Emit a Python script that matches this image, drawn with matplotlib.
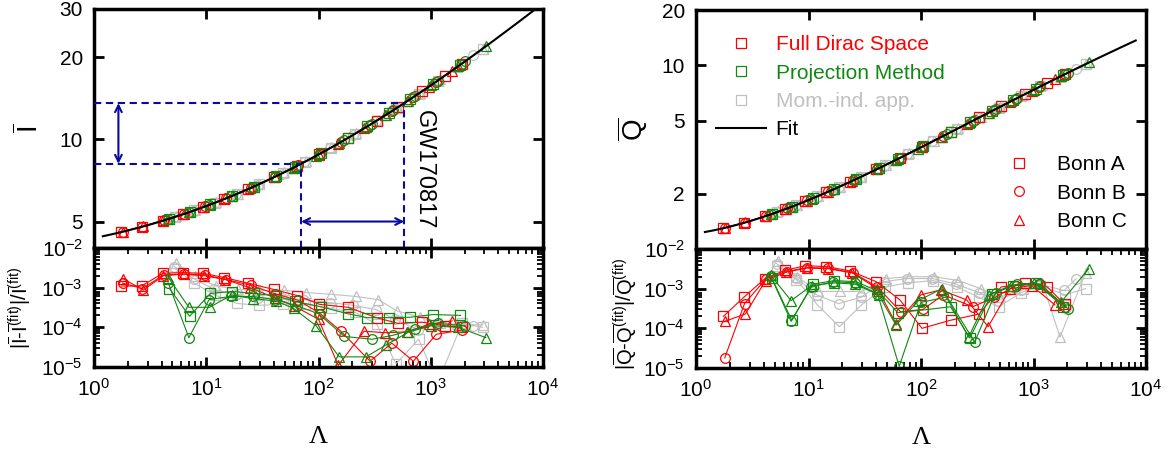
import numpy as np
import matplotlib
matplotlib.use('Agg')
import matplotlib.pyplot as plt
from matplotlib.lines import Line2D
from matplotlib.ticker import FixedLocator, NullLocator, LogLocator, NullFormatter

plt.rcParams['font.family'] = ['Liberation Sans', 'DejaVu Sans']
plt.rcParams['mathtext.fontset'] = 'custom'
plt.rcParams['mathtext.rm'] = 'Liberation Sans'
plt.rcParams['mathtext.it'] = 'Liberation Sans:italic'
plt.rcParams['mathtext.bf'] = 'Liberation Sans:bold'

# tidal deformability of each stellar sequence
lam_full_a = [1.75, 2.65, 4.1, 6.2, 9.4, 14.4, 23.5, 40, 65, 102, 183, 330, 515, 835, 1330, 1900]
lam_full_b = [1.8, 2.7, 4.2, 6.4, 9.7, 15, 25, 41, 66, 104, 158, 288, 450, 700, 1120, 1900]
lam_full_c = [1.8, 2.75, 4.15, 6.3, 9.6, 14.8, 24.5, 41, 60, 100, 150, 255, 395, 620, 960, 1550]
lam_proj_a = [4.7, 7.1, 10.9, 17, 26.4, 42, 62, 105, 183, 272, 425, 660, 1050, 1840]
lam_proj_b = [4.6, 7.0, 10.6, 16.5, 26, 41, 64, 100, 170, 300, 460, 720, 1150, 2030]
lam_proj_c = [4.6, 7.0, 10.7, 16.8, 26, 42, 60, 95, 153, 265, 400, 630, 1000, 1750, 3100]
lam_mom_a = [5.3, 7.8, 12, 18.8, 29.3, 48, 76, 128, 210, 330, 490, 780, 1150, 1900, 2900]
lam_mom_b = [5.2, 7.7, 11.8, 18.5, 29, 47, 75, 126, 205, 325, 480, 770, 1130, 1870, 2400]
lam_mom_c = [5.4, 7.9, 12.2, 19, 29.5, 49, 78, 130, 215, 340, 500, 800, 1200, 1720, 2900]

# relative deviation of I-bar from the fit
resI_full_a = [1.1e-3, 1.1e-3, 2.3e-3, 2.4e-3, 2.3e-3, 1.8e-3, 1.3e-3, 9.0e-4, 6.3e-4, 3.8e-4, 3.2e-4, 1.75e-4, 1.25e-4, 1.35e-4, 1.1e-4, 1.0e-4]
resI_full_b = [1.3e-3, 9.5e-4, 2.1e-3, 2.2e-3, 2.1e-3, 1.6e-3, 1.15e-3, 7.0e-4, 4.8e-4, 2.2e-4, 8.0e-5, 1.4e-5, 4.0e-5, 1.4e-5, 6.7e-5, 8.5e-5]
resI_full_c = [1.7e-3, 8.7e-4, 2.0e-3, 2.2e-3, 2.0e-3, 1.6e-3, 1.0e-3, 5.5e-4, 3.5e-4, 1.6e-4, 1.1e-5, 8.0e-5, 7.3e-5, 7.7e-5, 1.2e-4, 1.45e-4]
resI_proj_a = [9.5e-4, 1.9e-4, 7.2e-4, 8.0e-4, 7.2e-4, 6.2e-4, 4.5e-4, 3.3e-4, 2.2e-4, 1.75e-4, 1.75e-4, 1.8e-4, 2.1e-4, 2.0e-4]
resI_proj_b = [1.3e-3, 5.5e-5, 5.0e-4, 6.0e-4, 6.0e-4, 5.0e-4, 3.5e-4, 2.2e-4, 5.9e-5, 5.0e-5, 6.3e-5, 9.0e-5, 1.25e-4, 1.1e-4]
resI_proj_c = [1.8e-3, 3.2e-4, 3.2e-4, 6.5e-4, 5.3e-4, 4.6e-4, 3.0e-4, 1.1e-4, 1.8e-5, 1.8e-5, 3.6e-5, 7.5e-5, 1.1e-4, 1.0e-4, 5.5e-5]
resI_mom_a = [3.0e-3, 1.3e-3, 6.5e-4, 4.0e-4, 3.6e-4, 3.8e-4, 3.8e-4, 3.0e-4, 2.4e-4, 1.2e-4, 1.2e-5, 5.0e-5, 4.0e-6, 1.25e-4, 1.0e-4]
resI_mom_b = [3.4e-3, 1.7e-3, 9.0e-4, 6.5e-4, 5.5e-4, 5.5e-4, 5.0e-4, 4.2e-4, 3.6e-4, 2.8e-4, 1.6e-4, 8.6e-5, 1.2e-4, 1.1e-4, 1.1e-4]
resI_mom_c = [4.1e-3, 2.0e-3, 1.1e-3, 9.0e-4, 8.5e-4, 8.6e-4, 7.5e-4, 6.8e-4, 6.0e-4, 5.0e-4, 2.6e-4, 1.8e-4, 1.3e-4, 1.2e-4, 1.15e-4]

# relative deviation of Q-bar from the fit
resQ_full_a = [2.0e-4, 6.0e-4, 1.8e-3, 2.9e-3, 3.8e-3, 3.6e-3, 2.8e-3, 1.5e-3, 5.2e-4, 1.0e-4, 1.6e-4, 2.3e-4, 1.1e-3, 1.35e-3, 1.1e-3, 4.0e-4]
resQ_full_b = [1.8e-5, 4.2e-4, 1.8e-3, 2.7e-3, 3.4e-3, 3.3e-3, 2.5e-3, 1.1e-3, 2.6e-4, 3.0e-4, 7.0e-4, 3.5e-4, 6.0e-4, 1.2e-3, 1.3e-3, 3.5e-4]
resQ_full_c = [1.5e-4, 2.3e-4, 1.6e-3, 2.6e-3, 3.3e-3, 3.2e-3, 2.5e-3, 1.0e-3, 1.3e-4, 7.0e-4, 9.3e-4, 5.2e-4, 1.1e-4, 1.0e-3, 1.2e-3, 3.9e-4]
resQ_proj_a = [1.9e-3, 1.6e-4, 1.3e-3, 1.6e-3, 1.5e-3, 8.5e-4, 2.5e-4, 2.9e-4, 3.5e-4, 5.7e-5, 7.5e-4, 1.2e-3, 1.4e-3, 3.5e-4]
resQ_proj_b = [2.1e-3, 1.5e-4, 1.1e-3, 1.5e-3, 1.4e-3, 7.5e-4, 1.1e-5, 4.5e-4, 6.2e-4, 4.5e-5, 8.0e-4, 1.3e-3, 1.3e-3, 3.1e-4]
resQ_proj_c = [2.2e-3, 5.0e-4, 1.2e-3, 1.4e-3, 1.3e-3, 7.0e-4, 1.2e-4, 5.0e-4, 1.0e-3, 6.0e-5, 7.0e-4, 1.2e-3, 1.4e-3, 4.5e-4, 3.2e-3]
resQ_mom_a = [3.8e-3, 1.7e-3, 3.9e-4, 1.1e-4, 3.8e-4, 1.1e-3, 1.4e-3, 1.6e-3, 1.1e-3, 6.0e-4, 3.5e-4, 8.0e-4, 1.2e-3, 7.0e-4, 1.0e-3]
resQ_mom_b = [4.3e-3, 1.9e-3, 7.0e-4, 4.2e-4, 6.0e-4, 1.5e-3, 1.8e-3, 1.8e-3, 1.3e-3, 8.0e-4, 5.0e-4, 9.0e-4, 1.3e-3, 9.0e-4, 1.8e-3]
resQ_mom_c = [5.0e-3, 2.0e-3, 8.5e-4, 8.5e-4, 8.5e-4, 1.8e-3, 2.0e-3, 2.0e-3, 1.6e-3, 1.0e-3, 6.0e-4, 1.0e-3, 1.4e-3, 6.0e-5, 2.5e-3]

# universal relation fits: ln y = sum_k c_k (ln Lambda)^k
I_fit_coef = [1.47, 0.0817, 0.0149, 2.87e-4, -3.64e-5]
Q_fit_coef = [0.194, 0.0936, 0.0474, -4.21e-3, 1.23e-4]

# GW170817 bound on Lambda_1.4
gw_lambda = [70, 580]

method_labels = ['Full Dirac Space', 'Projection Method', 'Mom.-ind. app.']
bonn_labels = ['Bonn A', 'Bonn B', 'Bonn C']

RED = '#ff0000'
GREEN = '#118811'
GRAY = '#c0c0c0'
NAVY = '#0a0a9c'


def fit(lam, coef):
    x = np.log(np.asarray(lam, dtype=float))
    return np.exp(sum(c * x ** k for k, c in enumerate(coef)))


series = [
    (GRAY, 's', lam_mom_a, resI_mom_a, resQ_mom_a),
    (GRAY, 'o', lam_mom_b, resI_mom_b, resQ_mom_b),
    (GRAY, '^', lam_mom_c, resI_mom_c, resQ_mom_c),
    (RED, 's', lam_full_a, resI_full_a, resQ_full_a),
    (RED, 'o', lam_full_b, resI_full_b, resQ_full_b),
    (RED, '^', lam_full_c, resI_full_c, resQ_full_c),
    (GREEN, 's', lam_proj_a, resI_proj_a, resQ_proj_a),
    (GREEN, 'o', lam_proj_b, resI_proj_b, resQ_proj_b),
    (GREEN, '^', lam_proj_c, resI_proj_c, resQ_proj_c),
]

W, H = 1176, 457
fig = plt.figure(figsize=(W / 100, H / 100), dpi=100)


def rect(x0, x1, y0, y1):
    return [x0 / W, 1 - y1 / H, (x1 - x0) / W, (y1 - y0) / H]


axIu = fig.add_axes(rect(94, 543, 9, 248))
axIl = fig.add_axes(rect(94, 543, 248, 367))
axQu = fig.add_axes(rect(696, 1146, 10, 249))
axQl = fig.add_axes(rect(696, 1146, 249, 368))

style = dict(mfc='none', ms=7, mew=0.9, lw=0.8)
lam_line = np.logspace(np.log10(1.2), 4, 300)
lam_line_q = np.logspace(np.log10(1.2), np.log10(8100), 300)

for color, mk, lam, rI, rQ in series:
    lam = np.array(lam)
    axIu.plot(lam, fit(lam, I_fit_coef) * (1 + np.array(rI)), marker=mk, color=color, **style)
    axQu.plot(lam, fit(lam, Q_fit_coef) * (1 + np.array(rQ)), marker=mk, color=color, **style)
    axIl.plot(lam, rI, marker=mk, color=color, **style)
    axQl.plot(lam, rQ, marker=mk, color=color, **style)

axIu.plot(lam_line, fit(lam_line, I_fit_coef), color='k', lw=1.5, zorder=5)
axQu.plot(lam_line_q, fit(lam_line_q, Q_fit_coef), color='k', lw=1.5, zorder=5)

# GW170817 window
I_lo, I_hi = fit(gw_lambda, I_fit_coef)
dash = dict(color=NAVY, lw=1.5, ls=(0, (3.5, 2.2)), zorder=6)
axIu.plot([1, gw_lambda[0]], [I_lo, I_lo], **dash)
axIu.plot([1, gw_lambda[1]], [I_hi, I_hi], **dash)
axIu.plot([gw_lambda[0], gw_lambda[0]], [4, I_lo], **dash)
axIu.plot([gw_lambda[1], gw_lambda[1]], [4, I_hi], **dash)
arrow = dict(arrowstyle='<->', color=NAVY, lw=1.5, shrinkA=0, shrinkB=0, mutation_scale=12)
axIu.annotate('', xy=(1.65, I_lo), xytext=(1.65, I_hi), arrowprops=arrow)
axIu.annotate('', xy=(gw_lambda[0], 5.0), xytext=(gw_lambda[1], 5.0), arrowprops=arrow)
axIu.text(870, 7.75, 'GW170817', rotation=270, ha='center', va='center', fontsize=17)

for ax in (axIu, axIl, axQu, axQl):
    ax.set_xscale('log')
    ax.set_yscale('log')
    ax.set_xlim(1, 1e4)
    for s in ax.spines.values():
        s.set_linewidth(2.5)
    ax.tick_params(which='both', direction='in', top=True, right=True, labelsize=15, pad=8)
    ax.tick_params(which='major', length=7.5, width=2)
    ax.tick_params(which='minor', length=4, width=1.3)

for ax in (axIu, axQu):
    ax.xaxis.set_major_locator(FixedLocator([10, 100, 1000]))
    ax.xaxis.set_minor_locator(NullLocator())
    ax.tick_params(labelbottom=False)
    ax.yaxis.set_minor_locator(NullLocator())

axIu.set_ylim(4, 30)
axIu.set_yticks([5, 10, 20, 30], ['5', '10', '20', '30'])
axIu.yaxis.set_minor_locator(NullLocator())
axQu.set_ylim(1, 20)
axQu.set_yticks([2, 5, 10, 20], ['2', '5', '10', '20'])
axQu.yaxis.set_minor_locator(NullLocator())

for ax in (axIl, axQl):
    ax.set_ylim(1e-5, 1e-2)
    ax.xaxis.set_major_locator(LogLocator(base=10, numticks=10))
    ax.xaxis.set_minor_locator(LogLocator(base=10, subs=np.arange(2, 10), numticks=40))
    ax.xaxis.set_minor_formatter(NullFormatter())
    ax.yaxis.set_major_locator(LogLocator(base=10, numticks=10))
    ax.yaxis.set_minor_locator(LogLocator(base=10, subs=np.arange(2, 10), numticks=40))
    ax.yaxis.set_minor_formatter(NullFormatter())
    ax.set_xlabel('Λ', fontsize=19, family=['Liberation Serif', 'DejaVu Serif'])
    ax.xaxis.label.set_verticalalignment('center')
    ax.xaxis.set_label_coords(0.5, -0.59)

axIu.set_ylabel(r'$\overline{\mathrm{I}}$', fontsize=20, va='center')
axIu.yaxis.set_label_coords(-0.143, 0.5)
axQu.set_ylabel(r'$\overline{\mathrm{Q}}$', fontsize=20, va='center')
axQu.yaxis.set_label_coords(-0.14, 0.5)
axIl.set_ylabel(r'$|\overline{\mathrm{I}}$-$\overline{\mathrm{I}}^{\mathrm{(fit)}}|/\overline{\mathrm{I}}^{\mathrm{(fit)}}$',
                fontsize=14.5, va='center')
axIl.yaxis.set_label_coords(-0.165, 0.5)
axQl.set_ylabel(r'$|\overline{\mathrm{Q}}$-$\overline{\mathrm{Q}}^{\mathrm{(fit)}}|/\overline{\mathrm{Q}}^{\mathrm{(fit)}}$',
                fontsize=14.5, va='center')
axQl.yaxis.set_label_coords(-0.158, 0.46)

# legends
m_handles = [Line2D([], [], ls='none', marker='s', mfc='none', mec=c, ms=7, mew=0.9)
             for c in (RED, GREEN, GRAY)]
m_handles.append(Line2D([], [], color='k', lw=1.5))
leg1 = axQu.legend(m_handles, method_labels + ['Fit'], loc='upper left',
                   bbox_to_anchor=(0.045, 0.894), frameon=False, fontsize=15,
                   handlelength=2.4, handletextpad=0.45, labelspacing=0.45,
                   borderpad=0, borderaxespad=0, labelcolor=[RED, GREEN, GRAY, 'k'])
axQu.add_artist(leg1)
b_handles = [Line2D([], [], ls='none', marker=m, mfc='none', mec=RED, ms=7, mew=0.9)
             for m in ('s', 'o', '^')]
axQu.legend(b_handles, bonn_labels, loc='lower left', bbox_to_anchor=(0.662, 0.074),
            frameon=False, fontsize=15, handlelength=2.4, handletextpad=0.62,
            labelspacing=0.46, borderpad=0, borderaxespad=0)

fig.savefig('out.png', dpi=100)
